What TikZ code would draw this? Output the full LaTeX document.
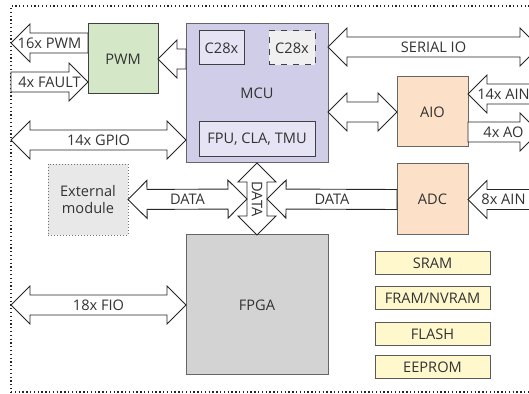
\documentclass[tikz,border=0pt]{standalone}
\usepackage{fontspec}
\setsansfont{Open Sans}
\usetikzlibrary{calc}
\definecolor{pwmfill}{RGB}{212,232,200}
\definecolor{mcufill}{RGB}{208,205,232}
\definecolor{corefill}{RGB}{230,228,244}
\definecolor{altfill}{RGB}{240,240,240}
\definecolor{anafill}{RGB}{252,224,200}
\definecolor{extfill}{RGB}{232,232,232}
\definecolor{fpgafill}{RGB}{211,211,211}
\definecolor{memfill}{RGB}{255,248,204}
\definecolor{ink}{RGB}{51,51,51}
\def\fsw{5pt}\def\fhw{9.5pt}\def\fhl{9.5pt}
\newcommand\fatsingle[4]{% name, tail, tip, label
  \coordinate (#1-h) at ($(#3)!\fhl!(#2)$);
  \draw[fatarrow] ($(#2)!\fsw!90:(#3)$) -- ($(#1-h)!\fsw!-90:(#2)$) -- ($(#1-h)!\fhw!-90:(#2)$) -- (#3) -- ($(#1-h)!\fhw!90:(#2)$) -- ($(#1-h)!\fsw!90:(#2)$) -- ($(#2)!\fsw!-90:(#3)$) -- cycle;
  \node[lbl] (#1) at ($(#2)!0.5!(#3)$) {#4};
}
\newcommand\fatdouble[5]{% name, end A, end B, label, label options
  \coordinate (#1-a) at ($(#2)!\fhl!(#3)$);
  \coordinate (#1-b) at ($(#3)!\fhl!(#2)$);
  \draw[fatarrow] (#2) -- ($(#1-a)!\fhw!90:(#3)$) -- ($(#1-a)!\fsw!90:(#3)$) -- ($(#1-b)!\fsw!-90:(#2)$) -- ($(#1-b)!\fhw!-90:(#2)$) -- (#3) -- ($(#1-b)!\fhw!90:(#2)$) -- ($(#1-b)!\fsw!90:(#2)$) -- ($(#1-a)!\fsw!-90:(#3)$) -- ($(#1-a)!\fhw!-90:(#3)$) -- cycle;
  \node[lbl,#5] (#1) at ($(#2)!0.5!(#3)$) {#4};
}
\tikzset{
  box/.style={draw=black!75, line width=0.5pt, inner sep=0pt, outer sep=0pt, text=ink, align=center},
  fatarrow/.style={draw=black!85, fill=white, line width=0.45pt, line join=miter},
  lbl/.style={text=ink, inner sep=0pt},
  frameline/.style={draw=black!85, line width=0.65pt, dash pattern=on 0.65pt off 1.25pt, inner sep=0pt, outer sep=0pt},
}
\begin{document}
\begin{tikzpicture}[x=0.5pt, y=-0.5pt, font=\sffamily\fontsize{7.3}{8.6}\selectfont]
\useasboundingbox (0,0) rectangle (529,394);
\clip (0,0) rectangle (529,394);
\node[frameline, minimum width=264pt, minimum height=193pt] (frame) at (275,199) {};
% blocks
\node[box, fill=pwmfill, minimum width=35pt, minimum height=35pt] (pwm) at (123,59) {PWM};
\node[box, fill=mcufill, draw=black!60, minimum width=71pt, minimum height=69.5pt] (mcu) at (257,93.5) {MCU};
\node[box, fill=corefill, minimum width=22.5pt, minimum height=17pt] (c1) at (221.5,48) {C28x};
\node[box, fill=altfill, dashed, minimum width=23pt, minimum height=17pt] (c2) at (292,48) {C28x};
\node[box, fill=corefill, minimum width=58pt, minimum height=17.5pt] (fpu) at (257,139.5) {FPU, CLA, TMU};
\node[box, fill=anafill, draw=black!60, minimum width=35.5pt, minimum height=35pt] (aio) at (432.5,112) {AIO};
\node[box, fill=anafill, draw=black!60, minimum width=35.5pt, minimum height=35.5pt] (adc) at (432.5,199.5) {ADC};
\node[box, fill=extfill, draw=black!55, densely dotted, line width=0.4pt, minimum width=40pt, minimum height=35.5pt] (ext) at (88,199.5) {External\\module};
\node[box, fill=fpgafill, draw=black!60, minimum width=71pt, minimum height=70pt] (fpga) at (257,305) {FPGA};
\node[box, fill=memfill, draw=black!65, minimum width=57.5pt, minimum height=11.5pt] (sram) at (432.5,263) {SRAM};
\node[box, fill=memfill, draw=black!65, minimum width=57.5pt, minimum height=11.5pt] (fram) at (432.5,298) {FRAM/NVRAM};
\node[box, fill=memfill, draw=black!65, minimum width=57.5pt, minimum height=11.5pt] (flash) at (432.5,334) {FLASH};
\node[box, fill=memfill, draw=black!65, minimum width=57.5pt, minimum height=11.5pt] (eeprom) at (432.5,367.5) {EEPROM};
% end points
\coordinate (pwmo) at ($(pwm.west)+(0,-16)$);
\coordinate (pwmoL) at (frame.west |- pwmo);
\coordinate (fault) at ($(pwm.west)+(0,23)$);
\coordinate (faultL) at (frame.west |- fault);
\coordinate (mcupwm) at (mcu.west |- pwm.east);
\coordinate (gpio) at ($(mcu.west)+(0,46.5)$);
\coordinate (gpioL) at (frame.west |- gpio);
\coordinate (ser) at ($(mcu.north east)+(0,23)$);
\coordinate (serR) at (frame.east |- ser);
\coordinate (mcuaio) at (mcu.east |- aio.west);
\coordinate (ain) at ($(aio.east)+(0,-18)$);
\coordinate (ainR) at (frame.east |- ain);
\coordinate (ao) at ($(aio.east)+(0,20)$);
\coordinate (aoR) at (frame.east |- ao);
\coordinate (ain8R) at (frame.east |- adc.east);
\coordinate (dv) at ($(mcu.south)!0.5!(fpga.north)$);
\coordinate (dvl) at ($(dv)+(-10,0)$);
\coordinate (dvr) at ($(dv)+(10,0)$);
\coordinate (fioL) at (frame.west |- fpga.west);
% connectors
\fatsingle{lpwm}{pwmo}{pwmoL}{16x PWM}
\fatsingle{lfault}{faultL}{fault}{4x FAULT}
\fatsingle{lmcupwm}{mcupwm}{pwm.east}{}
\fatdouble{lgpio}{gpioL}{gpio}{14x GPIO}{}
\fatdouble{lser}{ser}{serR}{SERIAL IO}{}
\fatdouble{lmcuaio}{mcuaio}{aio.west}{}{}
\fatsingle{lain}{ainR}{ain}{14x AIN}
\fatsingle{lao}{ao}{aoR}{4x AO}
\fatsingle{lain8}{ain8R}{adc.east}{8x AIN}
\fatdouble{ldv}{mcu.south}{fpga.north}{DATA}{rotate=-90}
\fatdouble{lext}{ext.east}{dvl}{DATA}{}
\fatsingle{ladc}{adc.west}{dvr}{DATA}
\fatdouble{lfio}{fioL}{fpga.west}{18x FIO}{}
\end{tikzpicture}
\end{document}
